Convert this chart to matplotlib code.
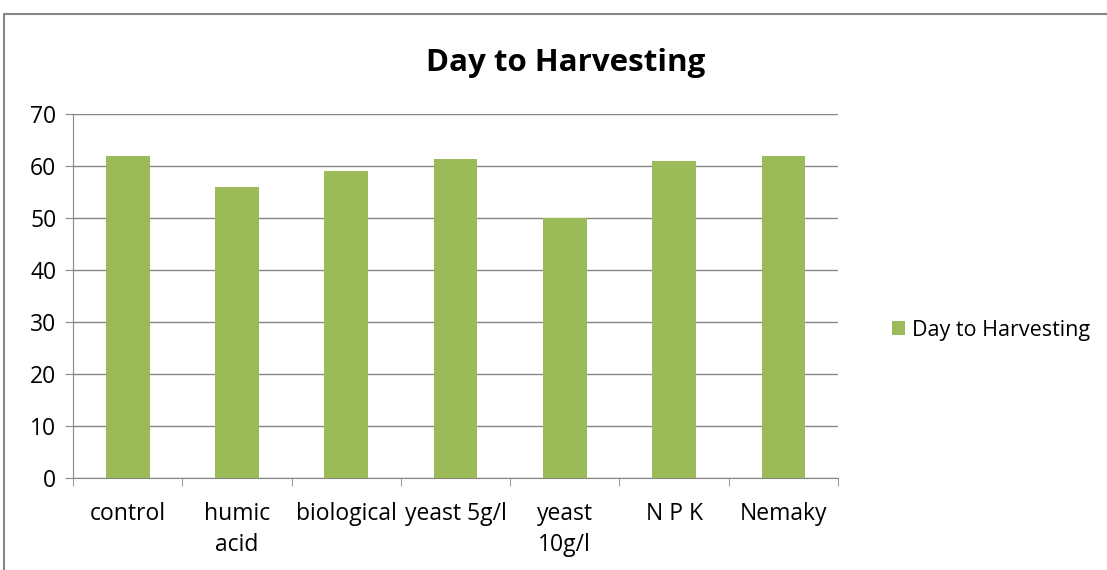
import numpy as np
from matplotlib import pyplot as plt
from matplotlib.patches import Rectangle

categories = ["control", "humic\nacid", "biological", "yeast 5g/l", "yeast\n10g/l", "N P K", "Nemaky"]
days = [62, 56, 59, 61.3, 50, 61, 62]
series_name = "Day to Harvesting"

plt.rcParams['font.family'] = ['Open Sans', 'DejaVu Sans']

fig = plt.figure(figsize=(11.07, 5.70), dpi=100)
ax = fig.add_axes([0.066, 0.1614, 0.691, 0.6386])

x = np.arange(len(categories))
ax.bar(x, days, width=0.4, color="#9BBB59", label=series_name, zorder=3)

ax.set_xlim(-0.5, len(categories) - 0.5)
ax.set_ylim(0, 70)
ax.set_yticks(range(0, 71, 10))
ax.yaxis.grid(True, color="#868686", linewidth=1, zorder=0)

ax.set_xticks(x)
ax.set_xticklabels(categories, fontsize=16.5, linespacing=1.4, va="top")
ax.set_xticks(np.arange(-0.5, len(categories)), minor=True)
ax.tick_params(axis="x", which="major", length=0, pad=17)
ax.tick_params(axis="x", which="minor", length=6, color="#868686")
ax.tick_params(axis="y", length=6, color="#868686", labelsize=16.5, pad=6)

for side in ["top", "right"]:
    ax.spines[side].set_visible(False)
for side in ["left", "bottom"]:
    ax.spines[side].set_color("#868686")

fig.text(0.511, 0.89, series_name, fontsize=22.5, fontweight="bold", ha="center", va="center")

fig.legend(loc="center left", bbox_to_anchor=(0.806, 0.421), frameon=False, fontsize=15.5,
           handlelength=0.6, handleheight=0.6, handletextpad=0.3, borderpad=0, borderaxespad=0)

# outer chart border
fig.patches.append(Rectangle((4 / 1107, -0.05), 1.2, 1 - 14 / 570 + 0.05, transform=fig.transFigure,
                             fill=False, edgecolor="#868686", linewidth=1.5))

fig.savefig("out.png", dpi=100)
